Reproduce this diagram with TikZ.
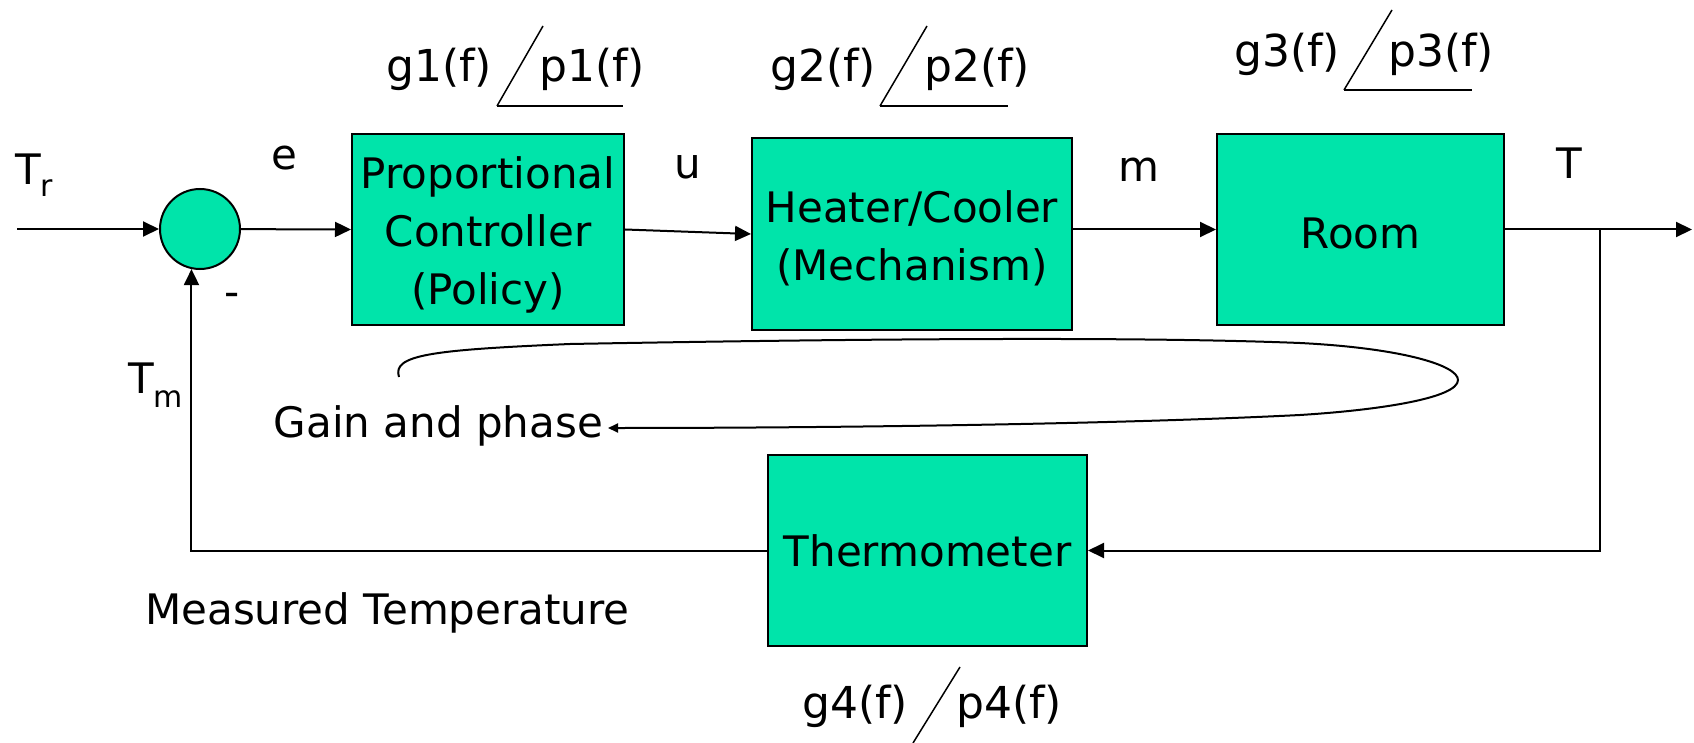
\documentclass[tikz,border=0pt]{standalone}
\usepackage{fontspec}
\setmainfont{DejaVu Sans}
\usetikzlibrary{arrows.meta,calc}
\definecolor{boxgreen}{RGB}{0,228,170}
\begin{document}
\begin{tikzpicture}[x=1pt,y=-1pt,
  blk/.style={draw=black,line width=2pt,fill=boxgreen,inner sep=0pt},
  btxt/.style={align=center,inner sep=0pt,font=\fontsize{42}{58}\selectfont},
  lbl/.style={inner sep=0pt,font=\fontsize{42}{50}\selectfont},
  gp/.style={inner sep=0pt,anchor=base west,font=\fontsize{44}{50}\selectfont},
  arr/.style={line width=2pt,-{Triangle[length=16pt,width=15pt]}},
  slash/.style={line width=1.5pt},
  uline/.style={line width=2.5pt}]
\fill[white] (0,0) rectangle (1694,743);
\useasboundingbox (0,0) rectangle (1694,743);

% blocks
\node[blk,minimum width=272pt,minimum height=191pt] (pc) at (488,229.5) {};
\node[btxt] (pctext) at (488,235) {Proportional\\Controller\\(Policy)};
\node[blk,minimum width=320pt,minimum height=192pt] (hc) at (912,234) {};
\node[btxt] (hctext) at (912,238) {Heater/Cooler\\(Mechanism)};
\node[blk,minimum width=287pt,minimum height=191pt] (room) at (1360.5,229.5) {};
\node[btxt] (roomtext) at (1360.5,233) {Room};
\node[blk,minimum width=319pt,minimum height=191pt] (th) at (927.5,550.5) {};
\node[btxt] (thtext) at (927.5,551) {Thermometer};
\node[circle,draw=black,line width=2pt,fill=boxgreen,minimum size=80pt,inner sep=0pt] (sum) at (200,229) {};

% signal labels
\node[lbl,anchor=base west] (tr) at (15,185) {T\raisebox{-12pt}{\fontsize{30}{30}\selectfont r}};
\node[lbl,anchor=base] (e) at (284,170) {e};
\node[lbl,anchor=base] (minus) at (232,306) {-};
\node[lbl,anchor=base west] (tm) at (128,393) {T\raisebox{-14pt}{\fontsize{30}{30}\selectfont m}};
\node[lbl,anchor=base] (u) at (688,179) {u};
\node[lbl,anchor=base] (m) at (1139,182) {m};
\node[lbl,anchor=base] (t) at (1569,179) {T};
\node[lbl,anchor=base east] (gain) at (603,437) {Gain and phase};
\node[lbl,anchor=base west] (meas) at (145,624) {Measured Temperature};

% gain / phase labels
\node[gp] (g1) at (386,82) {g1(f)};
\node[gp] (p1) at (539,82) {p1(f)};
\draw[slash] (497,106) -- (543,26);
\draw[uline] (497,106) -- (623,106);

\node[gp] (g2) at (770,82) {g2(f)};
\node[gp] (p2) at (924,82) {p2(f)};
\draw[slash] (880,106) -- (927,26);
\draw[uline] (880,106) -- (1008,106);

\node[gp] (g3) at (1234,67) {g3(f)};
\node[gp] (p3) at (1388,67) {p3(f)};
\draw[slash] (1344,90) -- (1392,10);
\draw[uline] (1344,90) -- (1472,90);

\node[gp] (g4) at (802,718) {g4(f)};
\node[gp] (p4) at (956,718) {p4(f)};
\draw[slash] (913,743) -- (960,667);

% connectors
\coordinate (in) at (17,229);
\coordinate (out) at (1692,229.5);
\coordinate (br) at (1600,229.5);
\draw[arr] (in) -- (sum);
\draw[arr] (sum) -- (pc.west);
\draw[arr] (pc.east) -- (hc.west);
\draw[arr] (hc.east |- room.west) -- (room.west);
\draw[arr] (room.east) -- (out);
\draw[arr] (br) |- (th.east);
\draw[arr] (th.west) -| (sum.258);

% gain and phase loop
\coordinate (ls) at (399,377);
\coordinate (le) at (608,428);
\draw[line width=2pt,-{Triangle[length=10pt,width=9pt]}] (ls) .. controls (392,355) and (430,350) .. (570,344)
  .. controls (900,338) and (1150,337) .. (1300,343)
  .. controls (1400,348) and (1458,365) .. (1458,380)
  .. controls (1458,398) and (1380,410) .. (1300,415)
  .. controls (1100,425) and (800,428) .. (le);
\end{tikzpicture}
\end{document}
